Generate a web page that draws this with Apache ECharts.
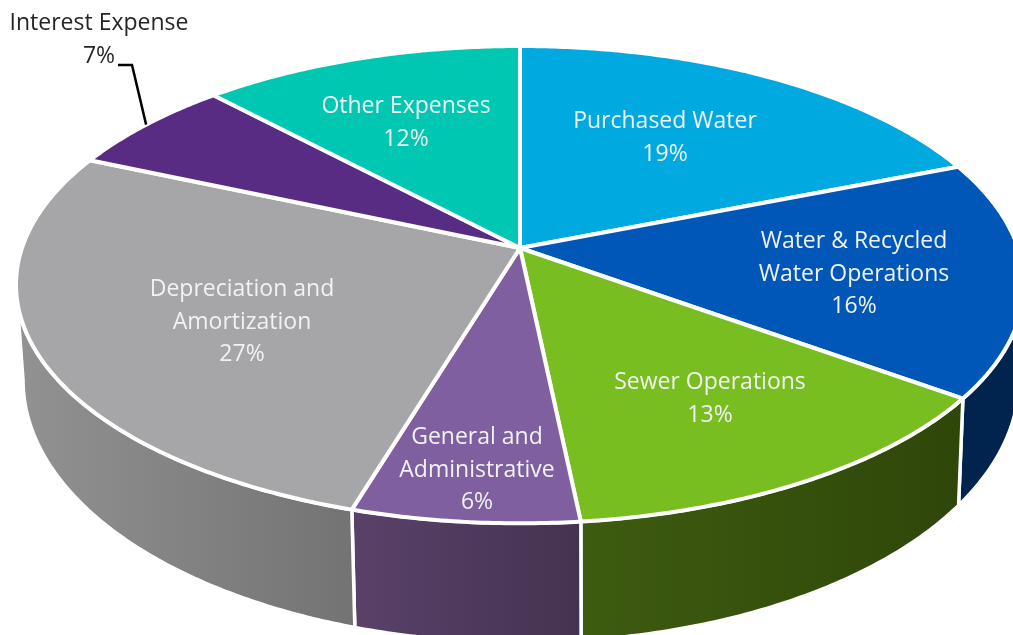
<!DOCTYPE html>
<html>
<head>
<meta charset="utf-8">
<title>Expenses</title>
<style>
	html, body { margin: 0; padding: 0; background: #fff; overflow: hidden; }
	#expense-pie { width: 1013px; height: 635px; }
</style>
<script src="https://cdn.jsdelivr.net/npm/echarts@6/dist/echarts.min.js"></script>
</head>
<body>
<div id="expense-pie"></div>
<script>
	const sliceNames = ['Purchased Water', 'Water & Recycled\nWater Operations', 'Sewer Operations', 'General and\nAdministrative', 'Depreciation and\nAmortization', 'Interest Expense', 'Other Expenses'];
	const sliceValues = [19, 16, 13.35, 6.3, 26.9, 6.45, 12];
	const sliceLabels = ['19%', '16%', '13%', '6%', '27%', '7%', '12%'];
	const topColors = ['#00a9e0', '#0057b8', '#78be20', '#7f5f9f', '#a6a6a8', '#582c83', '#00c7b1'];
	const sideColors = [
		['#00a9e0', '#00a9e0'],
		['#00244d', '#00244d'],
		['#3e5c10', '#2f4609'],
		['#5a4169', '#443350'],
		['#929292', '#727372'],
		['#582c83', '#582c83'],
		['#00c7b1', '#00c7b1']
	];
	const labelCenters = [[665, 138], [854, 274], [710, 399], [477, 470], [242, 322], [99, 40], [406, 123]];
	const labelColors = ['#f2f2f2', '#f2f2f2', '#f2f2f2', '#f2f2f2', '#f2f2f2', '#262626', '#f2f2f2'];

	// top face: circle seen in perspective, pie centre is not the ellipse centre
	const topDisc = { cx: 520, cy: 248, rx: 498, ry: 233 };
	const bottomDisc = { cx: 521, cy: 340, rx: 492, ry: 256 };
	const tilt = 0.1537;
	const leaderStart = [[118, 65], [132, 65]];
	const leaderSlice = 5;

	const total = sliceValues.reduce((a, b) => a + b, 0);
	const startAngles = [];
	sliceValues.reduce((sum, v, i) => {
		startAngles[i] = sum / total * Math.PI * 2;
		return sum + v;
	}, 0);

	function project(disc, angle) {
		const u = Math.sin(angle);
		const v = -Math.cos(angle);
		const d = 1 - tilt * v;
		return [disc.cx + disc.rx * u / d, disc.cy + disc.ry * v / d];
	}

	function arcPoints(disc, from, to) {
		const pts = [];
		const steps = Math.max(2, Math.ceil((to - from) / 0.01));
		for (let i = 0; i <= steps; i++) {
			pts.push(project(disc, from + (to - from) * i / steps));
		}
		return pts;
	}

	function sliceRange(i, value) {
		const from = startAngles[i];
		return [from, from + value / total * Math.PI * 2];
	}

	// only the front of the cylinder has a visible wall
	const wallFrom = Math.acos(-tilt);
	const wallTo = Math.PI * 2 - wallFrom;

	function renderWall(params, api) {
		const i = params.dataIndex;
		const range = sliceRange(i, api.value(0));
		const from = Math.max(range[0], wallFrom);
		const to = Math.min(range[1], wallTo);
		if (from >= to) {
			return { type: 'group', children: [] };
		}
		const points = arcPoints(topDisc, from, to).concat(arcPoints(bottomDisc, from, to).reverse());
		return {
			type: 'polygon',
			shape: { points: points },
			silent: true,
			style: {
				fill: new echarts.graphic.LinearGradient(0, 0, 1, 0, [
					{ offset: 0, color: sideColors[i][0] },
					{ offset: 1, color: sideColors[i][1] }
				]),
				stroke: '#fff',
				lineWidth: 3.5,
				lineJoin: 'round'
			}
		};
	}

	function renderTop(params, api) {
		const i = params.dataIndex;
		const range = sliceRange(i, api.value(0));
		const children = [{
			type: 'polygon',
			shape: { points: [[topDisc.cx, topDisc.cy]].concat(arcPoints(topDisc, range[0], range[1])) },
			style: { fill: topColors[i], stroke: '#fff', lineWidth: 4, lineJoin: 'round' }
		}];
		if (i === leaderSlice) {
			children.push({
				type: 'polyline',
				shape: { points: leaderStart.concat([project(topDisc, (range[0] + range[1]) / 2)]) },
				style: { fill: null, stroke: '#000', lineWidth: 2.5 }
			});
		}
		return { type: 'group', silent: true, children: children };
	}

	function renderLabel(params, api) {
		const i = params.dataIndex;
		return {
			type: 'text',
			silent: true,
			x: labelCenters[i][0],
			y: labelCenters[i][1],
			style: {
				text: sliceNames[i] + '\n' + sliceLabels[i],
				fill: labelColors[i],
				font: '23px "Open Sans", sans-serif',
				lineHeight: 32.5,
				align: 'center',
				verticalAlign: 'middle'
			}
		};
	}

	const chart = echarts.init(document.getElementById('expense-pie'), null, { renderer: 'canvas' });
	chart.setOption({
		backgroundColor: '#fff',
		animation: false,
		series: [
			{ type: 'custom', coordinateSystem: 'none', z: 1, data: sliceValues, renderItem: renderWall },
			{ type: 'custom', coordinateSystem: 'none', z: 2, data: sliceValues, renderItem: renderTop },
			{ type: 'custom', coordinateSystem: 'none', z: 3, data: sliceValues, renderItem: renderLabel }
		]
	});
</script>
</body>
</html>
